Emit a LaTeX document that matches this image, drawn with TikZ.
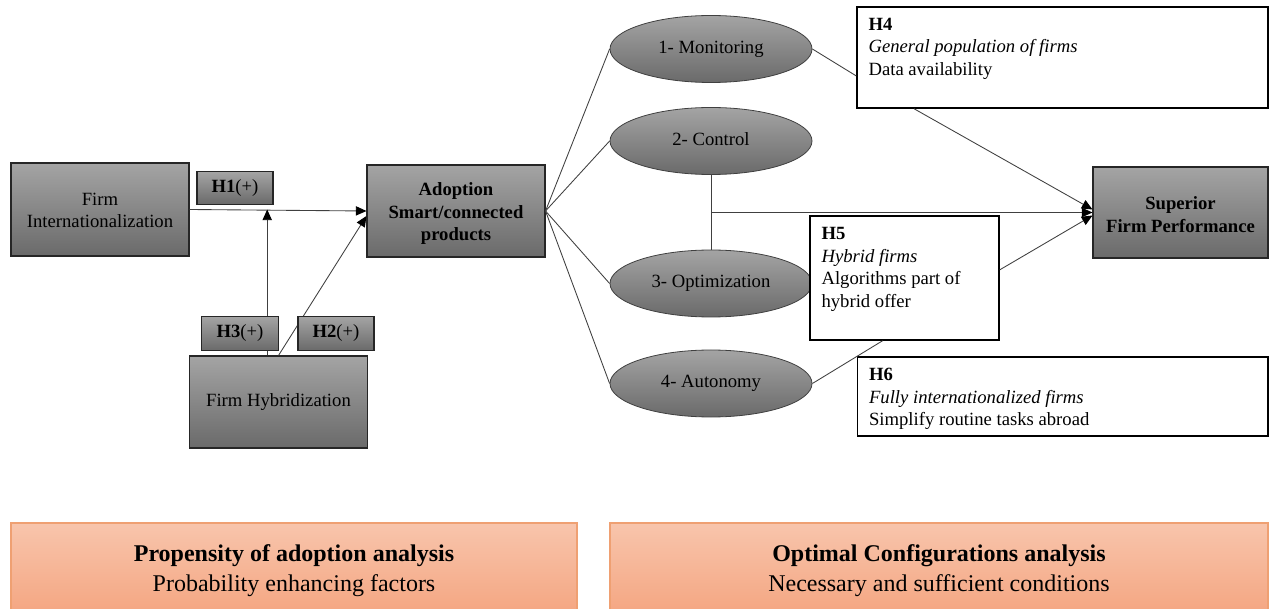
\documentclass[tikz,border=0pt]{standalone}
\usepackage{fontspec}
\setmainfont{Liberation Serif}
\usetikzlibrary{shapes.geometric,arrows.meta,calc}
\definecolor{gtop}{HTML}{A4A4A4}
\definecolor{gbot}{HTML}{6A6A6A}
\definecolor{otop}{HTML}{F8C5AC}
\definecolor{obot}{HTML}{F4A47F}
\definecolor{oline}{HTML}{EFA072}
\newcommand{\firstup}[1]{\rule{0pt}{#1}}
\begin{document}
\begin{tikzpicture}[x=0.75pt,y=-0.75pt,
  font=\fontsize{14}{16.9}\selectfont,
  graybox/.style={draw=black!85, line width=0.8pt, top color=gtop, bottom color=gbot, inner sep=0pt, align=center},
  oneline/.style={text height=0.9em, text depth=0.24em},
  boldtext/.style={font=\fontsize{14}{16.9}\selectfont\bfseries},
  grayell/.style={ellipse, draw=black!75, line width=0.6pt, top color=gtop, bottom color=gbot,
    minimum width=151.5pt, minimum height=50.25pt, inner sep=0pt, oneline},
  hbox/.style={draw=black, line width=1.1pt, fill=white, inner sep=0pt},
  htext/.style={anchor=north west, inner sep=0pt, align=left},
  orbox/.style={draw=oline, line width=0.8pt, top color=otop, bottom color=obot, inner sep=0pt,
    align=center, font=\fontsize{18}{22.5}\selectfont},
  conn/.style={draw=black!75, line width=0.65pt},
  arr/.style={conn, -{Triangle[length=8pt,width=7pt,color=black,fill=black]}},
]
\useasboundingbox (0,0) rectangle (1270,609);

% main boxes
\node[graybox, minimum width=133.5pt, minimum height=69.75pt] (fi) at (100,209.5) {\firstup{10.5pt}Firm\\Internationalization};
\node[graybox, boldtext, minimum width=133.5pt, minimum height=69pt] (ad) at (456,211) {\firstup{14pt}Adoption\\Smart/connected\\products};
\node[graybox, oneline, minimum width=133.5pt, minimum height=69pt] (fh) at (278.5,402) {Firm Hybridization};
\node[graybox, boldtext, minimum width=131.25pt, minimum height=68.25pt] (sp) at (1180.5,212.5) {\firstup{12.5pt}Superior\\Firm Performance};

% ellipses
\node[grayell] (e1) at (711,49) {1- Monitoring};
\node[grayell] (e2) at (711,141) {2- Control};
\node[grayell] (e3) at (711,283.5) {3- Optimization};
\node[grayell] (e4) at (711,383.5) {4- Autonomy};

% hypothesis boxes (right)
\node[hbox, minimum width=308.25pt, minimum height=75.75pt] (h4) at (1062.5,57.5) {};
\node[hbox, minimum width=141.75pt, minimum height=93pt] (h5) at (904.5,278) {};
\node[hbox, minimum width=307.9pt, minimum height=59.25pt] (h6) at (1062.75,396.5) {};
\node[htext] (h4t) at ($(h4.north west)+(12,11.5)$) {\textbf{H4}\\\textit{General population of firms}\\Data availability};
\node[htext] (h5t) at ($(h5.north west)+(12,12)$) {\textbf{H5}\\\textit{Hybrid firms}\\Algorithms part of\\hybrid offer};
\node[htext] (h6t) at ($(h6.north west)+(12,12)$) {\textbf{H6}\\\textit{Fully internationalized firms}\\Simplify routine tasks abroad};

% connectors (left)
\draw[arr] (fi.east) -- (ad.west);
\coordinate (h3s) at ($(fh.north west)!0.437!(fh.north east)$);
\draw[arr] (h3s) -- (h3s |- fi.east);
\draw[arr] (fh.north) -- ($(ad.west)+(0,5)$);

% connectors to ellipses
\foreach \e in {e1,e2,e3,e4} \draw[conn] (ad.east) -- (\e.west);
\draw[conn] (e2.south) -- (e3.north);
\draw[arr] (e2.south |- sp.west) -- (sp.west);
\draw[conn] (e1.east) -- ($(h4.north west)!0.68!(h4.south west)$);
\draw[arr] ($(h4.south west)!0.14!(h4.south east)$) -- ($(sp.west)+(0,-3)$);
\draw[conn] (e4.east) -- ($(h5.south west)!0.385!(h5.south east)$);
\draw[arr] ($(h5.north east)!0.435!(h5.south east)$) -- ($(sp.west)+(0,3)$);

% label boxes
\node[graybox, oneline, minimum width=57pt, minimum height=24.25pt] (h1) at (235,188) {\textbf{H1}(+)};
\node[graybox, oneline, minimum width=57.5pt, minimum height=25.5pt] (h3) at (240,333.5) {\textbf{H3}(+)};
\node[graybox, oneline, minimum width=57pt, minimum height=25.5pt] (h2) at (336,333.5) {\textbf{H2}(+)};

% bottom panels
\node[orbox, minimum width=424.5pt, minimum height=72pt] (bl) at (294,571) {\textbf{Propensity of adoption analysis}\\Probability enhancing factors};
\node[orbox, minimum width=493.5pt, minimum height=72pt] (br) at (939,571) {\textbf{Optimal Configurations analysis}\\Necessary and sufficient conditions};
\end{tikzpicture}
\end{document}
